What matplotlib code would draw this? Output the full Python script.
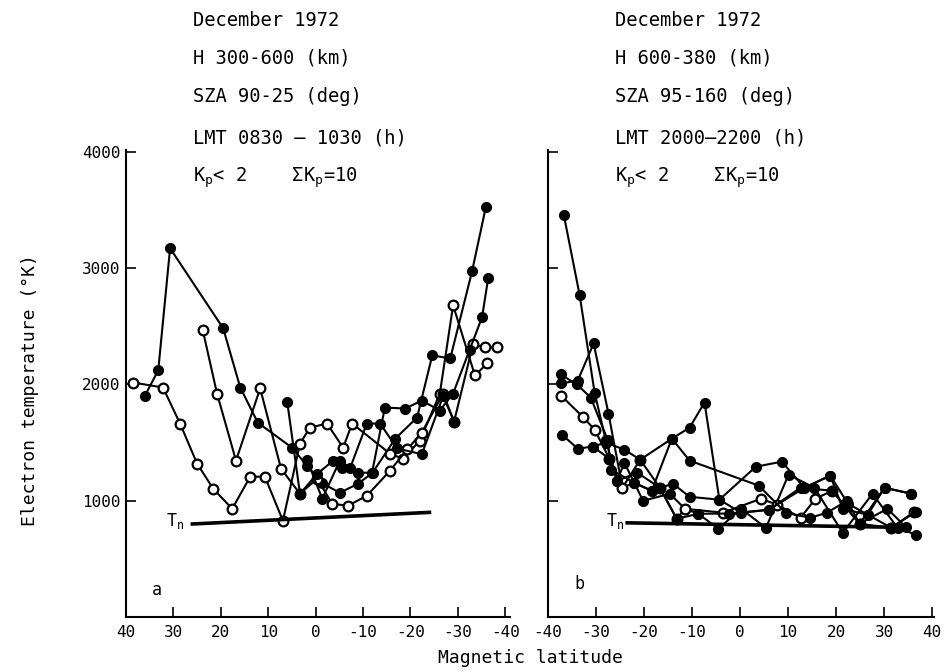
import matplotlib
matplotlib.use("Agg")
import matplotlib.pyplot as plt

plt.rcParams['font.family'] = ['DejaVu Sans Mono', 'DejaVu Sans']
plt.rcParams['mathtext.fontset'] = 'custom'
plt.rcParams['mathtext.rm'] = 'DejaVu Sans Mono'
plt.rcParams['mathtext.it'] = 'DejaVu Sans Mono'
plt.rcParams['mathtext.default'] = 'regular'

# ---------------- data: panel a (daytime) ----------------
a1_lat = [36.0, 33.2, 30.7, 19.5, 15.9, 12.2, 5.0, 1.8, -1.4, -5.1, -9.0, -12.0, -16.8, -21.4, -24.6, -28.4, -33.0, -35.9]
a1_T = [1905, 2121, 3172, 2483, 1974, 1672, 1457, 1300, 1150, 1069, 1147, 1241, 1534, 1716, 2250, 2224, 2974, 3526]

a2_lat = [38.5, 32.2, 28.6, 25.0, 21.6, 17.6, 13.8, 10.7, 6.9, 3.3, 1.2, -2.4, -5.8, -7.7, -15.7, -18.4, -22.0, -26.2, -29.0, -33.6, -36.2]
a2_T = [2017, 1974, 1664, 1319, 1103, 931, 1207, 1207, 828, 1491, 1629, 1664, 1457, 1664, 1405, 1362, 1517, 1922, 2681, 2078, 2181]

a3_lat = [23.8, 20.8, 16.8, 11.7, 7.3, 3.3, -0.3, -3.5, -6.8, -10.8, -15.7, -19.3, -22.4, -26.9, -29.2, -33.2, -35.7, -38.3]
a3_T = [2466, 1922, 1345, 1966, 1276, 1060, 1190, 974, 957, 1043, 1259, 1441, 1586, 1922, 1681, 2345, 2319, 2319]

a4_lat = [6.0, 3.3, -0.3, -3.7, -5.6, -9.0, -11.9, -14.6, -18.9, -22.4, -26.2, -29.0, -32.5, -35.1, -36.4]
a4_T = [1853, 1060, 1230, 1345, 1284, 1241, 1241, 1802, 1793, 1862, 1776, 1922, 2300, 2578, 2914]

a5_lat = [1.8, -1.4, -5.1, -7.3, -10.8, -13.6, -17.2, -22.4, -26.9, -29.2]
a5_T = [1350, 1017, 1345, 1284, 1664, 1664, 1450, 1400, 1900, 1681]

a_tn_lat = [26.0, -24.0]
a_tn_T = [800, 900]

# ---------------- data: panel b (night) ----------------
b1_lat = [-36.7, -33.4, -30.3, -28.0, -25.6, -24.1, -20.2, -14.6, -11.5, -8.7, -4.5, 0.2, 5.4, 10.1, 15.5, 21.4, 27.6, 32.8, 36.7]
b1_T = [3457, 2767, 1931, 1526, 1172, 1328, 1000, 1060, 931, 888, 759, 931, 767, 1224, 1112, 724, 1060, 767, 707]

b2_lat = [-37.3, -33.8, -30.5, -27.4, -24.5, -22.1, -18.4, -14.2, -10.5, -7.4, -4.3, 3.3, 8.7, 13.4, 18.8, 22.5, 26.6, 30.1, 35.7]
b2_T = [2009, 2034, 2353, 1750, 1112, 1155, 1086, 1534, 1629, 1845, 1009, 1293, 1336, 1112, 1216, 974, 880, 1112, 1060]

b3_lat = [-37.3, -32.8, -30.3, -27.2, -24.5, -20.8, -16.7, -13.2, -11.5, -3.5, 4.3, 7.8, 12.6, 15.7, 19.2, 24.9, 31.5, 36.3]
b3_T = [1905, 1724, 1612, 1362, 1112, 1353, 1112, 845, 931, 897, 1017, 965, 853, 1017, 1086, 802, 767, 905]

b4_lat = [-37.1, -33.8, -30.7, -28.0, -24.1, -20.8, -14.2, -10.5, 3.9, 9.5, 14.6, 18.1, 22.3, 24.9, 30.7, 34.6]
b4_T = [1569, 1448, 1466, 1500, 1440, 1353, 1534, 1345, 1130, 897, 853, 897, 1000, 802, 931, 770]

b5_lat = [-37.3, -34.0, -31.1, -27.6, -26.8, -22.1, -18.4, -14.0, -10.5, -4.3, 0.2, 6.0, 12.6, 19.2, 24.9, 30.1, 35.7]
b5_T = [2086, 2000, 1888, 1526, 1267, 1155, 1086, 1147, 1034, 1009, 897, 922, 1112, 1086, 802, 1112, 1060]

b6_lat = [-30.7, -27.2, -25.6, -21.4, -16.7, -13.2, -8.7, -2.3, 6.0, 13.4, 18.8, 21.4, 26.6, 31.5, 36.7]
b6_T = [1466, 1362, 1172, 1241, 1112, 845, 888, 890, 922, 1112, 1216, 930, 880, 767, 907]

b_tn_lat = [-23.5, 35.0]
b_tn_T = [810, 770]

lat_ticks = [40, 30, 20, 10, 0, -10, -20, -30, -40]
T_ticks = [1000, 2000, 3000, 4000]

text_a = ["December 1972", "H 300-600 (km)", "SZA 90-25 (deg)",
          "LMT 0830 \u2014 1030 (h)", "K$_p$< 2    \u03a3K$_p$=10"]
text_b = ["December 1972", "H 600-380 (km)", "SZA 95-160 (deg)",
          "LMT 2000\u20142200 (h)", "K$_p$< 2    \u03a3K$_p$=10"]

# ---------------- figure ----------------
W, H = 945, 671
fig = plt.figure(figsize=(W / 100, H / 100), dpi=100)
bottom = (H - 617) / H
height = (617 - 150) / H
axa = fig.add_axes([126 / W, bottom, 384 / W, height])
axb = fig.add_axes([548 / W, bottom, 386 / W, height])

filled = dict(marker='o', markersize=7, markerfacecolor='black', markeredgecolor='black')
opened = dict(marker='o', markersize=7, markerfacecolor='white', markeredgecolor='black', markeredgewidth=1.6)
lk = dict(color='black', lw=1.5)

axa.plot(a1_lat, a1_T, **lk, **filled)
axa.plot(a2_lat, a2_T, **lk, **opened)
axa.plot(a3_lat, a3_T, **lk, **opened)
axa.plot(a4_lat, a4_T, **lk, **filled)
axa.plot(a5_lat, a5_T, **lk, **filled)
axa.plot(a_tn_lat, a_tn_T, color='black', lw=2.6)

axb.plot(b1_lat, b1_T, **lk, **filled)
axb.plot(b2_lat, b2_T, **lk, **filled)
axb.plot(b3_lat, b3_T, **lk, **opened)
axb.plot(b4_lat, b4_T, **lk, **filled)
axb.plot(b5_lat, b5_T, **lk, **filled)
axb.plot(b6_lat, b6_T, **lk, **filled)
axb.plot(b_tn_lat, b_tn_T, color='black', lw=2.6)

for ax in (axa, axb):
    for s in ('top', 'right'):
        ax.spines[s].set_visible(False)
    for s in ('left', 'bottom'):
        ax.spines[s].set_linewidth(1.5)
    ax.set_ylim(0, 4017)
    ax.set_yticks(T_ticks)
    ax.set_xticks(lat_ticks)
    ax.set_xticklabels([str(v) for v in lat_ticks])
    ax.tick_params(direction='in', length=7, width=1.2, labelsize=11.5, pad=6, colors='black')

axa.set_xlim(40, -41)
axb.set_xlim(-40, 40.4)
axa.set_yticklabels([str(v) for v in T_ticks])
axa.tick_params(axis='y', pad=4)
axb.set_yticklabels([])

# panel texts
ys = [20, 58, 97, 138, 178]
for t, y in zip(text_a, ys):
    fig.text(193 / W, 1 - y / H, t, fontsize=13.5, va='center', ha='left')
for t, y in zip(text_b, ys):
    fig.text(615 / W, 1 - y / H, t, fontsize=13.5, va='center', ha='left')

axa.text(34.5, 230, "a", fontsize=12, va='center')
axb.text(-34.5, 285, "b", fontsize=12, va='center')
axa.text(31.5, 830, "T$_n$", fontsize=12, va='center')
axb.text(-28, 830, "T$_n$", fontsize=12, va='center')

fig.text(30 / W, 1 - 390 / H, "Electron temperature (\u00b0K)", rotation=90,
         fontsize=13, va='center', ha='center')
fig.text(530 / W, 1 - 658 / H, "Magnetic latitude", fontsize=13,
         va='center', ha='center')

fig.savefig("out.png", dpi=100, facecolor='white')
